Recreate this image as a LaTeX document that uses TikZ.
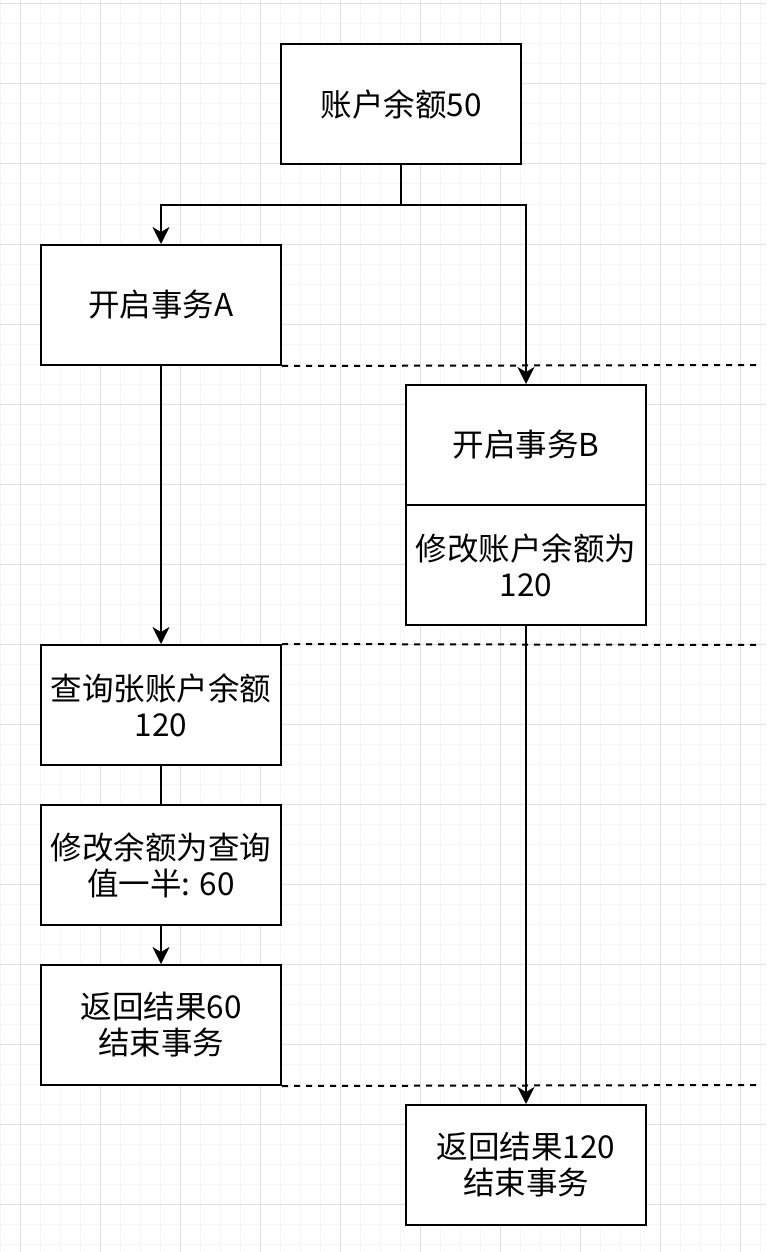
\documentclass[tikz,border=0pt]{standalone}
\usepackage{fontspec}
\setmainfont{Noto Sans CJK SC}
\usetikzlibrary{arrows.meta}
\definecolor{gridminor}{HTML}{F5F5F5}
\definecolor{gridmajor}{HTML}{E0E0E0}
\begin{document}
\begin{tikzpicture}[x=1pt,y=-1pt,
  box/.style={draw=black,line width=2pt,fill=white,minimum width=240pt,minimum height=120pt,
    inner sep=0pt,align=center,font=\fontsize{31.5}{36}\selectfont},
  conn/.style={draw=black,line width=2pt},
  arr/.style={conn,-{Stealth[length=17pt,width=17pt,inset=5pt]}},
  sep/.style={draw=black,line width=2pt,dash pattern=on 6pt off 6pt}]
\useasboundingbox (0,0) rectangle (766,1252);
\fill[white] (0,0) rectangle (766,1252);
% grid
\foreach \x in {0,20,...,760} \draw[gridminor,line width=1pt] (\x,0) -- (\x,1252);
\foreach \y in {4,24,...,1250} \draw[gridminor,line width=1pt] (0,\y) -- (766,\y);
\foreach \x in {20,100,...,760} \draw[gridmajor,line width=1pt] (\x,0) -- (\x,1252);
\foreach \y in {4,84,...,1250} \draw[gridmajor,line width=1pt] (0,\y) -- (766,\y);
% nodes
\node[box] (top) at (401,104) {账户余额50};
\node[box] (A) at (161,305) {开启事务A};
\node[box] (B1) at (526,445) {开启事务B};
\node[box] (B2) at (526,565) {修改账户余额为\\120};
\node[box] (Q) at (161,705) {查询张账户余额\\120};
\node[box] (M) at (161,865) {修改余额为查询\\值一半: 60};
\node[box] (R) at (161,1025) {返回结果60\\结束事务};
\node[box] (R2) at (526,1165) {返回结果120\\结束事务};
% separators
\coordinate (s1) at (760,365);
\coordinate (s2) at (760,645);
\coordinate (s3) at (760,1085);
\draw[sep] (A.south east) -- (s1);
\draw[sep] (Q.north east) -- (s2);
\draw[sep] (R.south east) -- (s3);
% connectors
\draw[arr] (top.south) -- ++(0,40) -| (A.north);
\draw[arr] (top.south) -- ++(0,40) -| (B1.north);
\draw[arr] (A.south) -- (Q.north);
\draw[conn] (Q.south) -- (M.north);
\draw[arr] (M.south) -- (R.north);
\draw[arr] (B2.south) -- (R2.north);
\end{tikzpicture}
\end{document}
